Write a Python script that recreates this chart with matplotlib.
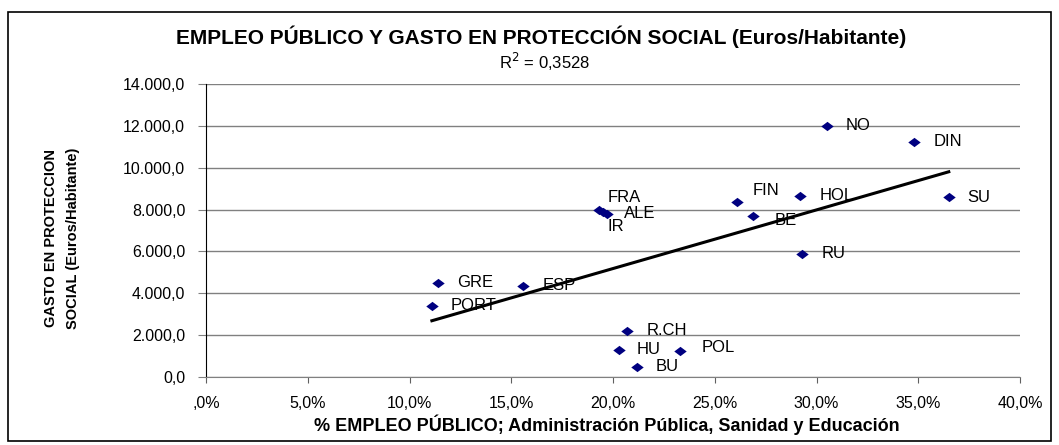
import matplotlib.pyplot as plt
from matplotlib.patches import Rectangle
from matplotlib.path import Path
import numpy as np

plt.rcParams['font.family'] = ['Liberation Sans', 'DejaVu Sans']

# paises y valores
paises = ["NO", "DIN", "SU", "HOL", "FIN", "BE", "RU", "FRA", "IR", "ALE",
          "GRE", "ESP", "PORT", "R.CH", "HU", "POL", "BU"]
empleo_pct = [30.5, 34.8, 36.5, 29.2, 26.1, 26.9, 29.3, 19.3, 19.5, 19.7,
              11.4, 15.6, 11.1, 20.7, 20.3, 23.3, 21.2]
gasto = [12000, 11250, 8600, 8650, 8350, 7700, 5900, 8000, 7900, 7770,
         4500, 4350, 3400, 2200, 1300, 1250, 500]

x_ticks = [0, 5, 10, 15, 20, 25, 30, 35, 40]
x_ticklabels = [",0%", "5,0%", "10,0%", "15,0%", "20,0%", "25,0%", "30,0%", "35,0%", "40,0%"]
y_ticks = [0, 2000, 4000, 6000, 8000, 10000, 12000, 14000]
y_ticklabels = ["0,0", "2.000,0", "4.000,0", "6.000,0", "8.000,0", "10.000,0", "12.000,0", "14.000,0"]

# desplazamiento de cada etiqueta (pixeles)
label_off = [(19, 0), (19, 0), (19, 0), (19, 0), (15, 12), (21, -5), (19, 0), (9, 12), (5, -15), (17, 1),
             (19, 0), (19, 0), (19, 0), (19, 0), (18, 0), (21, 3), (18, 0)]

fig = plt.figure(figsize=(10.59, 4.45), dpi=100)
fig.patches.append(Rectangle((8 / 1059, 1 - 441 / 445), 1043 / 1059, 429 / 445,
                             transform=fig.transFigure, fill=False, edgecolor='black', lw=1.2))

ax = fig.add_axes([206 / 1059, 1 - 377 / 445, 814 / 1059, 293 / 445])

diamond = Path([(-1, 0), (0, 0.75), (1, 0), (0, -0.75), (-1, 0)],
               [Path.MOVETO, Path.LINETO, Path.LINETO, Path.LINETO, Path.CLOSEPOLY])
ax.scatter(empleo_pct, gasto, marker=diamond, s=80, color='#000080', zorder=3, linewidths=0)

for name, x, y, (dx, dy) in zip(paises, empleo_pct, gasto, label_off):
    ax.annotate(name, (x, y), xytext=(dx * 0.72, dy * 0.72), textcoords='offset points',
                ha='left', va='center', fontsize=12, zorder=4)

# linea de tendencia
coef = np.polyfit(empleo_pct, gasto, 1)
xt = np.array([min(empleo_pct), max(empleo_pct)])
ax.plot(xt, np.polyval(coef, xt), color='black', lw=2.2, zorder=2)

ax.set_xlim(0, 40)
ax.set_ylim(0, 14000)
ax.set_xticks(x_ticks)
ax.set_xticklabels(x_ticklabels, fontsize=11.5)
ax.set_yticks(y_ticks)
ax.set_yticklabels(y_ticklabels, fontsize=11.5)
ax.yaxis.grid(True, color='#808080', lw=1)
ax.set_axisbelow(True)
ax.tick_params(axis='y', length=6, color='#808080', pad=9)
ax.tick_params(axis='x', length=4, color='#606060', pad=10)
ax.spines['top'].set_visible(False)
ax.spines['right'].set_visible(False)
ax.spines['left'].set_color('black')
ax.spines['bottom'].set_color('#808080')

fig.text(541 / 1059, 1 - 37 / 445, "EMPLEO PÚBLICO Y GASTO EN PROTECCIÓN SOCIAL (Euros/Habitante)",
         ha='center', va='center', fontsize=15, fontweight='bold')
fig.text(545 / 1059, 1 - 62 / 445, "R$^2$ = 0,3528", ha='center', va='center', fontsize=12)
fig.text(607 / 1059, 1 - 425 / 445, "% EMPLEO PÚBLICO; Administración Pública, Sanidad y Educación",
         ha='center', va='center', fontsize=13, fontweight='bold')
fig.text(62 / 1059, 1 - 238 / 445, "GASTO EN PROTECCION\nSOCIAL (Euros/Habitante)",
         ha='center', va='center', rotation=90, fontsize=10.5, fontweight='bold', linespacing=1.75)

fig.savefig("out.png", dpi=100)
